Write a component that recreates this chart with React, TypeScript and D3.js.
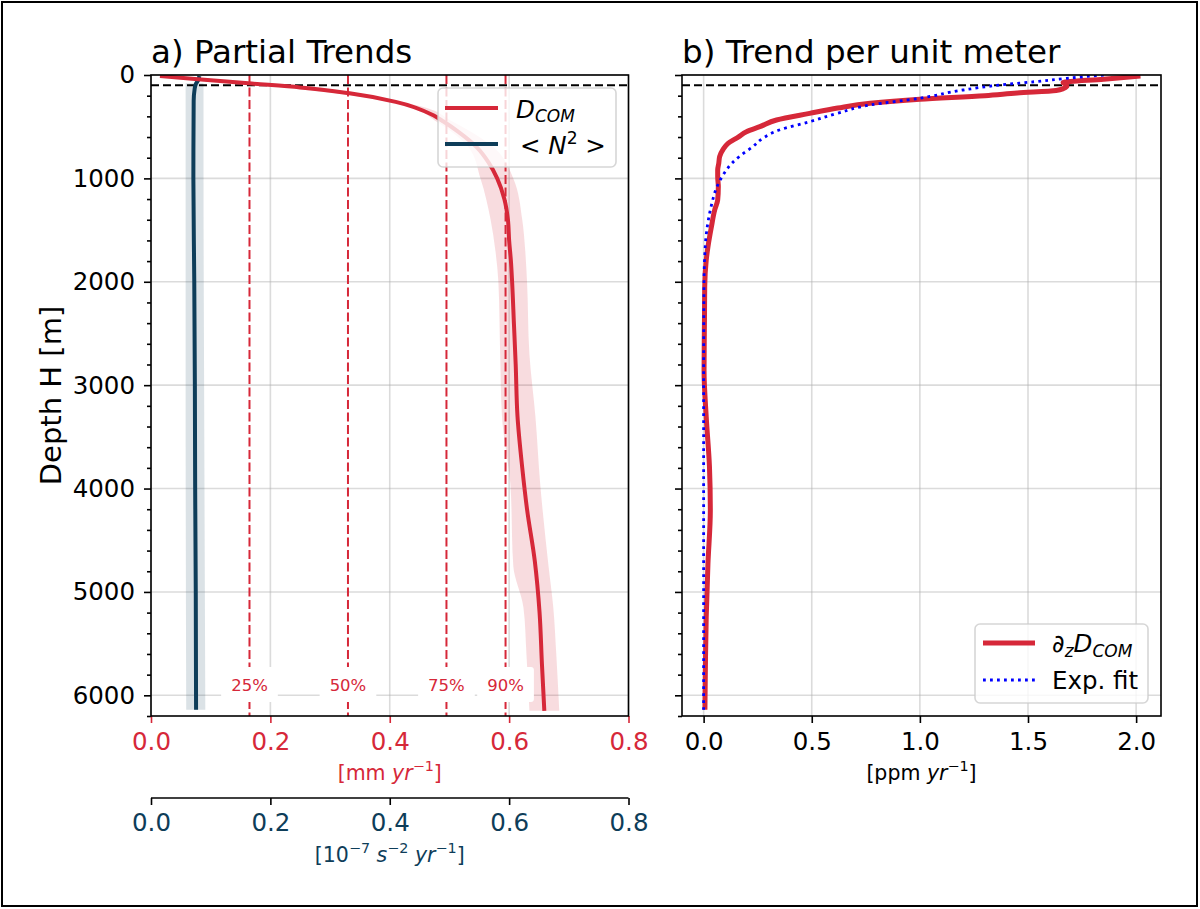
import React, { useEffect, useRef } from 'react';
import * as d3 from 'd3';

const RED = '#d62839';
const NAVY = '#0e3d59';
const FONT = 'DejaVu Sans, sans-serif';

// a) partial trends: D_COM mean profile [mm/yr]
const comDepth = [10, 20, 50, 80, 120, 175, 260, 390, 450, 550, 700, 850, 1000, 1200, 1400, 1600, 1800, 2000, 2400, 2800, 3300, 3800, 4200, 4700, 5200, 5700, 6150];
const comValue = [0.015, 0.035, 0.10, 0.163, 0.25, 0.33, 0.41, 0.473, 0.49, 0.515, 0.546, 0.566, 0.58, 0.592, 0.598, 0.600, 0.603, 0.605, 0.608, 0.611, 0.614, 0.622, 0.630, 0.643, 0.651, 0.655, 0.659];
// spread around D_COM
const comBandDepth = [10, 100, 200, 300, 450, 700, 1000, 1400, 1700, 2000, 2700, 3300, 3950, 4750, 5150, 5600, 6150];
const comBandLow = [0.013, 0.185, 0.34, 0.43, 0.478, 0.532, 0.552, 0.569, 0.577, 0.582, 0.585, 0.588, 0.602, 0.607, 0.624, 0.629, 0.634];
const comBandHigh = [0.017, 0.195, 0.355, 0.45, 0.505, 0.574, 0.607, 0.622, 0.627, 0.630, 0.634, 0.644, 0.652, 0.666, 0.674, 0.679, 0.684];

// <N^2> trend [1e-7 s^-2 yr^-1]
const n2Depth = [10, 50, 90, 140, 250, 1000, 2000, 3000, 4000, 5000, 6140];
const n2Value = [0.081, 0.079, 0.075, 0.073, 0.0715, 0.071, 0.0725, 0.0735, 0.074, 0.075, 0.0755];
const n2BandDepth = [80, 1000, 3000, 6140];
const n2BandLow = [0.058, 0.058, 0.058, 0.059];
const n2BandHigh = [0.088, 0.088, 0.089, 0.091];

// share of the total trend
const pctValues = [0.165, 0.33, 0.495, 0.594];
const pctLabels = ['25%', '50%', '75%', '90%'];
const mixedLayer = 100;

// b) trend per unit meter [ppm/yr]
const gradDepth = [10, 40, 74, 90, 110, 130, 150, 175, 200, 235, 274, 320, 371, 435, 500, 548, 600, 661, 720, 790, 855, 920, 984, 1081, 1210, 1307, 1468, 1662, 1791, 2049, 2340, 2856, 3307, 3791, 4211, 4727, 5244, 5760, 6140];
const gradValue = [2.02, 1.85, 1.662, 1.675, 1.68, 1.665, 1.63, 1.45, 1.3, 1.0, 0.77, 0.62, 0.49, 0.337, 0.26, 0.198, 0.16, 0.113, 0.09, 0.074, 0.07, 0.065, 0.065, 0.068, 0.065, 0.051, 0.036, 0.02, 0.012, 0.005, 0.004, 0.002, 0.012, 0.027, 0.031, 0.02, 0.012, 0.008, 0.006];
const fitDepth = [0, 32, 65, 97, 145, 225, 290, 370, 452, 532, 610, 694, 780, 855, 920, 984, 1100, 1242, 1400, 1565, 1750, 1952, 2500, 3000, 4000, 5000, 6140];
const fitValue = [1.85, 1.68, 1.53, 1.37, 1.2, 1.0, 0.77, 0.62, 0.49, 0.35, 0.275, 0.227, 0.17, 0.13, 0.105, 0.085, 0.058, 0.038, 0.022, 0.011, 0.005, 0.002, 0.0005, 0, 0, 0, 0];

const depthTicks = [0, 1000, 2000, 3000, 4000, 5000, 6000];
const trendTicks = [0, 0.2, 0.4, 0.6, 0.8];
const perMeterTicks = [0, 0.5, 1.0, 1.5, 2.0];

const App: React.FC = () => {
  const svgRef = useRef<SVGSVGElement>(null);

  useEffect(() => {
    if (!svgRef.current) return;
    const svg = d3.select(svgRef.current);
    svg.selectAll('*').remove();

    const top = 75, bottom = 716;
    const aL = 151, aR = 628.5, bL = 682, bR = 1161;
    const tickFont = 24.5;

    const y = d3.scaleLinear().domain([0, 6200]).range([top, bottom]);
    const xA = d3.scaleLinear().domain([0, 0.8]).range([aL, aR]);
    const xN2 = d3.scaleLinear().domain([0, 0.8]).range([aL, aR]);
    const xB = d3.scaleLinear().domain([-0.1, 2.115]).range([bL, bR]);
    const minorDepth = d3.range(0, 6201, 200).filter(d => d % 1000 !== 0);

    svg.append('rect').attr('width', 1200).attr('height', 909).attr('fill', 'white');
    svg.append('rect').attr('x', 2).attr('y', 2).attr('width', 1195).attr('height', 904)
      .attr('fill', 'none').attr('stroke', 'black').attr('stroke-width', 2);

    const defs = svg.append('defs');
    defs.append('clipPath').attr('id', 'clipA').append('rect')
      .attr('x', aL).attr('y', top).attr('width', aR - aL).attr('height', bottom - top);
    defs.append('clipPath').attr('id', 'clipB').append('rect')
      .attr('x', bL).attr('y', top).attr('width', bR - bL).attr('height', bottom - top);

    const grid = (x: d3.ScaleLinear<number, number>, xt: number[], x0: number, x1: number) => {
      const g = svg.append('g').attr('stroke', '#b0b0b0').attr('stroke-opacity', 0.45).attr('stroke-width', 1.6);
      g.selectAll(null).data(xt).enter().append('line')
        .attr('x1', d => x(d)).attr('x2', d => x(d)).attr('y1', top).attr('y2', bottom);
      g.selectAll(null).data(depthTicks).enter().append('line')
        .attr('x1', x0).attr('x2', x1).attr('y1', d => y(d)).attr('y2', d => y(d));
    };
    grid(xA, trendTicks, aL, aR);
    grid(xB, perMeterTicks, bL, bR);

    // ---- panel a
    const pa = svg.append('g').attr('clip-path', 'url(#clipA)');
    const idxN2 = d3.range(n2BandDepth.length);
    pa.append('path')
      .attr('d', d3.area<number>().y(i => y(n2BandDepth[i])).x0(i => xN2(n2BandLow[i])).x1(i => xN2(n2BandHigh[i])).curve(d3.curveMonotoneY)(idxN2))
      .attr('fill', NAVY).attr('fill-opacity', 0.15);
    const idxCom = d3.range(comBandDepth.length);
    pa.append('path')
      .attr('d', d3.area<number>().y(i => y(comBandDepth[i])).x0(i => xA(comBandLow[i])).x1(i => xA(comBandHigh[i])).curve(d3.curveMonotoneY)(idxCom))
      .attr('fill', RED).attr('fill-opacity', 0.16);

    pa.selectAll(null).data(pctValues).enter().append('line')
      .attr('x1', d => xA(d)).attr('x2', d => xA(d)).attr('y1', top).attr('y2', bottom)
      .attr('stroke', RED).attr('stroke-width', 2).attr('stroke-dasharray', '9,3.5');
    pa.append('line').attr('x1', aL).attr('x2', aR).attr('y1', y(mixedLayer)).attr('y2', y(mixedLayer))
      .attr('stroke', 'black').attr('stroke-width', 2).attr('stroke-dasharray', '8,4');

    pa.append('path')
      .attr('d', d3.line<number>().y(i => y(n2Depth[i])).x(i => xN2(n2Value[i])).curve(d3.curveMonotoneY)(d3.range(n2Depth.length)))
      .attr('fill', 'none').attr('stroke', NAVY).attr('stroke-width', 4);
    pa.append('path')
      .attr('d', d3.line<number>().y(i => y(comDepth[i])).x(i => xA(comValue[i])).curve(d3.curveMonotoneY)(d3.range(comDepth.length)))
      .attr('fill', 'none').attr('stroke', RED).attr('stroke-width', 4);

    pctValues.forEach((v, i) => {
      const lg = svg.append('g');
      const t = lg.append('text').attr('x', xA(v)).attr('y', 690.5).attr('text-anchor', 'middle')
        .attr('font-family', FONT).attr('font-size', 16.5).attr('fill', RED).text(pctLabels[i]);
      const w = (t.node() as SVGTextElement).getComputedTextLength();
      lg.insert('rect', 'text').attr('x', xA(v) - w / 2 - 10).attr('y', 667).attr('width', w + 20).attr('height', 35)
        .attr('rx', 3).attr('fill', 'white');
    });

    // ---- panel b
    const pb = svg.append('g').attr('clip-path', 'url(#clipB)');
    pb.append('line').attr('x1', bL).attr('x2', bR).attr('y1', y(mixedLayer)).attr('y2', y(mixedLayer))
      .attr('stroke', 'black').attr('stroke-width', 2).attr('stroke-dasharray', '8,4');
    pb.append('path')
      .attr('d', d3.line<number>().y(i => y(gradDepth[i])).x(i => xB(gradValue[i])).curve(d3.curveMonotoneY)(d3.range(gradDepth.length)))
      .attr('fill', 'none').attr('stroke', RED).attr('stroke-width', 5);
    pb.append('path')
      .attr('d', d3.line<number>().y(i => y(fitDepth[i])).x(i => xB(fitValue[i])).curve(d3.curveMonotoneY)(d3.range(fitDepth.length)))
      .attr('fill', 'none').attr('stroke', '#0000ff').attr('stroke-width', 2.8).attr('stroke-dasharray', '2.8,4.2');

    // ---- axes
    const styleAxis = (g: d3.Selection<SVGGElement, unknown, null, undefined>, tickColor: string, labelColor: string) => {
      g.attr('font-family', FONT).attr('font-size', tickFont);
      g.select('.domain').remove();
      g.selectAll('line').attr('stroke', tickColor).attr('stroke-width', 1.6);
      g.selectAll('text').attr('fill', labelColor);
    };
    const fmt1 = d3.format('.1f');

    [aL, bL].forEach((xPos, k) => {
      const major = svg.append('g').attr('transform', `translate(${xPos},0)`)
        .call(d3.axisLeft(y).tickValues(depthTicks).tickSize(7).tickPadding(9)
          .tickFormat(k === 0 ? (d => d3.format('d')(d as number)) : () => ''));
      styleAxis(major, 'black', 'black');
      const minor = svg.append('g').attr('transform', `translate(${xPos},0)`)
        .call(d3.axisLeft(y).tickValues(minorDepth).tickSize(4).tickFormat(() => ''));
      styleAxis(minor, 'black', 'black');
    });

    const axA = svg.append('g').attr('transform', `translate(0,${bottom})`)
      .call(d3.axisBottom(xA).tickValues(trendTicks).tickSize(7).tickPadding(9.5).tickFormat(d => fmt1(d as number)));
    styleAxis(axA, RED, RED);

    const axN2 = svg.append('g').attr('transform', 'translate(0,798)')
      .call(d3.axisBottom(xN2).tickValues(trendTicks).tickSize(7).tickPadding(9).tickFormat(d => fmt1(d as number)));
    styleAxis(axN2, 'black', NAVY);
    svg.append('line').attr('x1', aL).attr('x2', aR).attr('y1', 798).attr('y2', 798)
      .attr('stroke', 'black').attr('stroke-width', 1.6);

    const axB = svg.append('g').attr('transform', `translate(0,${bottom})`)
      .call(d3.axisBottom(xB).tickValues(perMeterTicks).tickSize(7).tickPadding(9.5).tickFormat(d => fmt1(d as number)));
    styleAxis(axB, 'black', 'black');

    // spines
    [[aL, aR], [bL, bR]].forEach(([l, r]) => {
      svg.append('rect').attr('x', l).attr('y', top).attr('width', r - l).attr('height', bottom - top)
        .attr('fill', 'none').attr('stroke', 'black').attr('stroke-width', 1.6);
    });

    // ---- texts
    const txt = (x: number, yy: number, size: number, color: string, anchor = 'start') =>
      svg.append('text').attr('x', x).attr('y', yy).attr('font-family', FONT).attr('font-size', size)
        .attr('fill', color).attr('text-anchor', anchor);

    txt(151, 63, 32.5, 'black').text('a) Partial Trends');
    txt(682, 63, 32.5, 'black').text('b) Trend per unit meter');
    txt(61, (top + bottom) / 2, 29, 'black', 'middle')
      .attr('transform', `rotate(-90,61,${(top + bottom) / 2})`).text('Depth H [m]');

    const sup = (t: d3.Selection<SVGTextElement, unknown, null, undefined>, s: string, size: number) => {
      t.append('tspan').attr('dy', -size * 0.42).attr('font-size', size * 0.7).text(s);
      return t.append('tspan').attr('dy', size * 0.42);
    };

    const unitFont = 20.5;
    const uA = txt((aL + aR) / 2, 780, unitFont, RED, 'middle');
    uA.append('tspan').text('[mm ');
    uA.append('tspan').attr('font-style', 'italic').text('yr');
    sup(uA, '−1', unitFont).text(']');

    const uN = txt((aL + aR) / 2, 862, unitFont, NAVY, 'middle');
    uN.append('tspan').text('[10');
    sup(uN, '−7', unitFont).text(' ').append('tspan').attr('font-style', 'italic').text('s');
    sup(uN, '−2', unitFont).text(' ').append('tspan').attr('font-style', 'italic').text('yr');
    sup(uN, '−1', unitFont).text(']');

    const uB = txt((bL + bR) / 2, 780, unitFont, 'black', 'middle');
    uB.append('tspan').text('[ppm ');
    uB.append('tspan').attr('font-style', 'italic').text('yr');
    sup(uB, '−1', unitFont).text(']');

    // ---- legends
    const legendBox = (x: number, yy: number, w: number, h: number) =>
      svg.append('rect').attr('x', x).attr('y', yy).attr('width', w).attr('height', h).attr('rx', 5)
        .attr('fill', 'white').attr('fill-opacity', 0.8).attr('stroke', '#cccccc').attr('stroke-opacity', 0.8)
        .attr('stroke-width', 1.6);

    const legFont = 24.5, subFont = 17;
    legendBox(438, 88, 178, 79);
    svg.append('line').attr('x1', 445).attr('x2', 498).attr('y1', 108).attr('y2', 108).attr('stroke', RED).attr('stroke-width', 4);
    svg.append('line').attr('x1', 445).attr('x2', 498).attr('y1', 144).attr('y2', 144).attr('stroke', NAVY).attr('stroke-width', 4);
    const l1 = txt(516, 117.5, legFont, 'black');
    l1.append('tspan').attr('font-style', 'italic').text('D');
    l1.append('tspan').attr('font-style', 'italic').attr('font-size', subFont).attr('dy', 4.5).text('COM');
    const l2 = txt(520, 154, legFont, 'black');
    l2.append('tspan').text('< ');
    l2.append('tspan').attr('font-style', 'italic').text('N');
    sup(l2, '2', legFont).text(' >');

    legendBox(975, 624, 173, 79);
    svg.append('line').attr('x1', 983).attr('x2', 1035).attr('y1', 643).attr('y2', 643).attr('stroke', RED).attr('stroke-width', 5);
    svg.append('line').attr('x1', 983).attr('x2', 1035).attr('y1', 680).attr('y2', 680).attr('stroke', '#0000ff')
      .attr('stroke-width', 2.8).attr('stroke-dasharray', '2.8,4.2');
    const l3 = txt(1052, 652, legFont, 'black');
    l3.append('tspan').text('∂');
    l3.append('tspan').attr('font-style', 'italic').attr('font-size', subFont).attr('dy', 4.5).text('z');
    l3.append('tspan').attr('font-style', 'italic').attr('dy', -4.5).text('D');
    l3.append('tspan').attr('font-style', 'italic').attr('font-size', subFont).attr('dy', 4.5).text('COM');
    txt(1052, 689, legFont, 'black').text('Exp. fit');
  }, []);

  return (
    <div style={{ position: 'absolute', left: 0, top: 0 }}>
      <svg ref={svgRef} width={1200} height={909}></svg>
    </div>
  );
};

export default App;
